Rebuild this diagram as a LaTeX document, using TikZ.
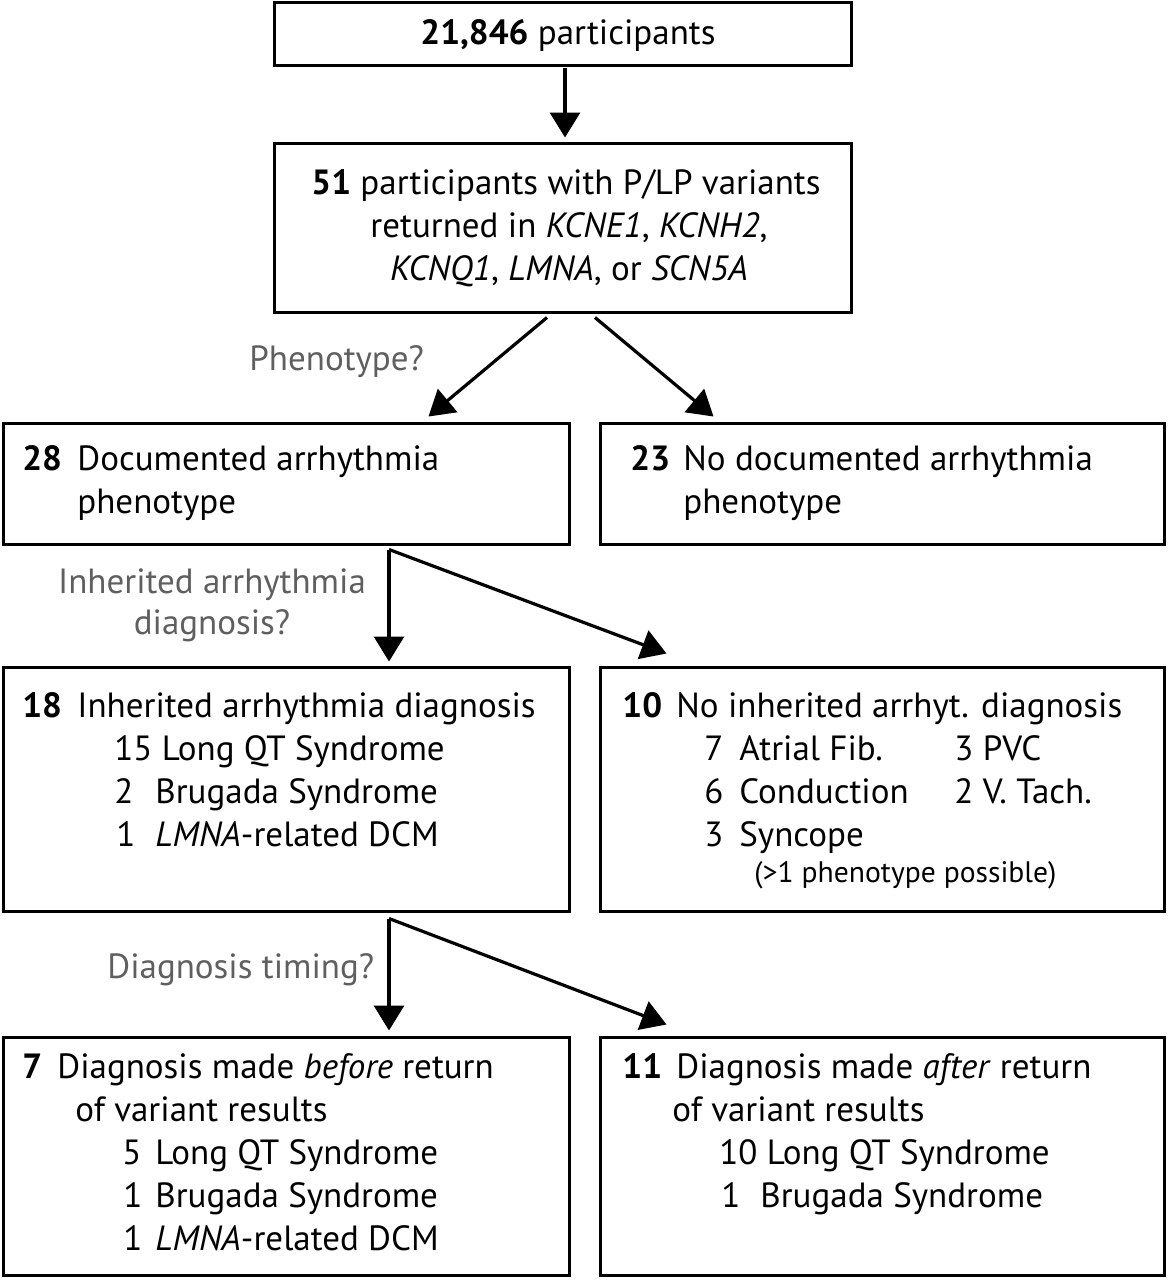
\documentclass[tikz,border=0pt]{standalone}
\usepackage{fontspec}
\setmainfont{PT Sans}
\usetikzlibrary{arrows.meta,fit}
\definecolor{labgray}{RGB}{95,95,95}
\begin{document}
\begin{tikzpicture}[x=0.5pt,y=-0.5pt,
  box/.style={draw, line width=1.5pt, inner sep=0pt},
  arr/.style={line width=1.6pt, -{Triangle[length=12.5pt,width=15pt]}},
  txt/.style={inner sep=0pt, anchor=base west, font=\fontsize{17.5pt}{21pt}\selectfont},
  ctxt/.style={txt, anchor=base},
  lab/.style={txt, text=labgray},
  smalltxt/.style={inner sep=0pt, anchor=base west, font=\fontsize{14.8pt}{17pt}\selectfont}]
\useasboundingbox (0,0) rectangle (1169,1280);
% boxes
\node[box, fit={(274,2)(851,65)}] (b1) {};
\node[box, fit={(274,143)(851,312)}] (b2) {};
\node[box, fit={(3,423)(569,544)}] (b3) {};
\node[box, fit={(600,423)(1164,544)}] (b4) {};
\node[box, fit={(3,667)(569,911)}] (b5) {};
\node[box, fit={(600,667)(1164,911)}] (b6) {};
\node[box, fit={(3,1037)(569,1275)}] (b7) {};
\node[box, fit={(600,1037)(1164,1275)}] (b8) {};
% arrows
\draw[arr] ([xshift=1.25pt,yshift=-0.5pt]b1.south) -- ([xshift=1.25pt,yshift=2pt]b2.north);
\draw[arr] ([xshift=-7.75pt,yshift=-2pt]b2.south) -- ([xshift=-71pt,yshift=2.5pt]b3.north east);
\draw[arr] ([xshift=16.25pt,yshift=-2pt]b2.south) -- ([xshift=57.5pt,yshift=2.5pt]b4.north west);
\draw[arr] ([xshift=51.5pt,yshift=-2pt]b3.south) -- ([xshift=51.5pt,yshift=2pt]b5.north);
\draw[arr] ([xshift=51.5pt,yshift=-2pt]b3.south) -- ([xshift=34pt,yshift=6pt]b6.north west);
\draw[arr] ([xshift=51.5pt,yshift=-3pt]b5.south) -- ([xshift=51.5pt,yshift=2.5pt]b7.north);
\draw[arr] ([xshift=51.5pt,yshift=-3pt]b5.south) -- ([xshift=34pt,yshift=5.5pt]b8.north west);
% box 1, 2
\node[ctxt] (t1) at (568,44) {\textbf{21,846} participants};
\node[ctxt] (t2a) at (566,194) {\textbf{51} participants with P/LP variants};
\node[ctxt] (t2b) at (569,237) {returned in \textit{KCNE1}, \textit{KCNH2},};
\node[ctxt] (t2c) at (569,280) {\textit{KCNQ1}, \textit{LMNA}, or \textit{SCN5A}};
\node[lab] (l1) at (249,370) {Phenotype?};
% box 3, 4
\node[txt] (n3) at (22,470) {\textbf{28}};
\node[txt] (t3a) at (77,470) {Documented arrhythmia};
\node[txt] (t3b) at (77,513) {phenotype};
\node[txt] (n4) at (630,470) {\textbf{23}};
\node[txt] (t4a) at (683,470) {No documented arrhythmia};
\node[txt] (t4b) at (683,513) {phenotype};
\node[lab, anchor=base] (l2a) at (212,593) {Inherited arrhythmia};
\node[lab, anchor=base] (l2b) at (212,634) {diagnosis?};
% box 5
\node[txt] (n5) at (22,717) {\textbf{18}};
\node[txt] (t5a) at (77,717) {Inherited arrhythmia diagnosis};
\node[txt] (t5b) at (114,760) {15 Long QT Syndrome};
\node[txt] (n5c) at (114,803) {2};
\node[txt] (t5c) at (155,803) {Brugada Syndrome};
\node[txt] (n5d) at (116,846) {1};
\node[txt] (t5d) at (155,846) {\textit{LMNA}-related DCM};
% box 6
\node[txt] (n6) at (622,717) {\textbf{10}};
\node[txt] (t6a) at (676,717) {No inherited arrhyt. diagnosis};
\node[txt] (n6b) at (704,760) {7};
\node[txt] (t6b) at (739,760) {Atrial Fib.};
\node[txt] (t6bb) at (954,760) {3 PVC};
\node[txt] (n6c) at (704,803) {6};
\node[txt] (t6c) at (739,803) {Conduction};
\node[txt] (t6cc) at (954,803) {2 V. Tach.};
\node[txt] (n6d) at (704,846) {3};
\node[txt] (t6d) at (739,846) {Syncope};
\node[smalltxt] (t6e) at (754,882) {(>1 phenotype possible)};
\node[lab] (l3) at (107,978) {Diagnosis timing?};
% box 7
\node[txt] (n7) at (22,1078) {\textbf{7}};
\node[txt] (t7a) at (57,1078) {Diagnosis made \textit{before} return};
\node[txt] (t7b) at (75,1121) {of variant results};
\node[txt] (n7c) at (122,1164) {5};
\node[txt] (t7c) at (155,1164) {Long QT Syndrome};
\node[txt] (n7d) at (123,1207) {1};
\node[txt] (t7d) at (155,1207) {Brugada Syndrome};
\node[txt] (n7e) at (123,1250) {1};
\node[txt] (t7e) at (155,1250) {\textit{LMNA}-related DCM};
% box 8
\node[txt] (n8) at (622,1078) {\textbf{11}};
\node[txt] (t8a) at (676,1078) {Diagnosis made \textit{after} return};
\node[txt] (t8b) at (672,1121) {of variant results};
\node[txt] (t8c) at (719,1164) {10 Long QT Syndrome};
\node[txt] (n8d) at (721,1207) {1};
\node[txt] (t8d) at (760,1207) {Brugada Syndrome};
\end{tikzpicture}
\end{document}
